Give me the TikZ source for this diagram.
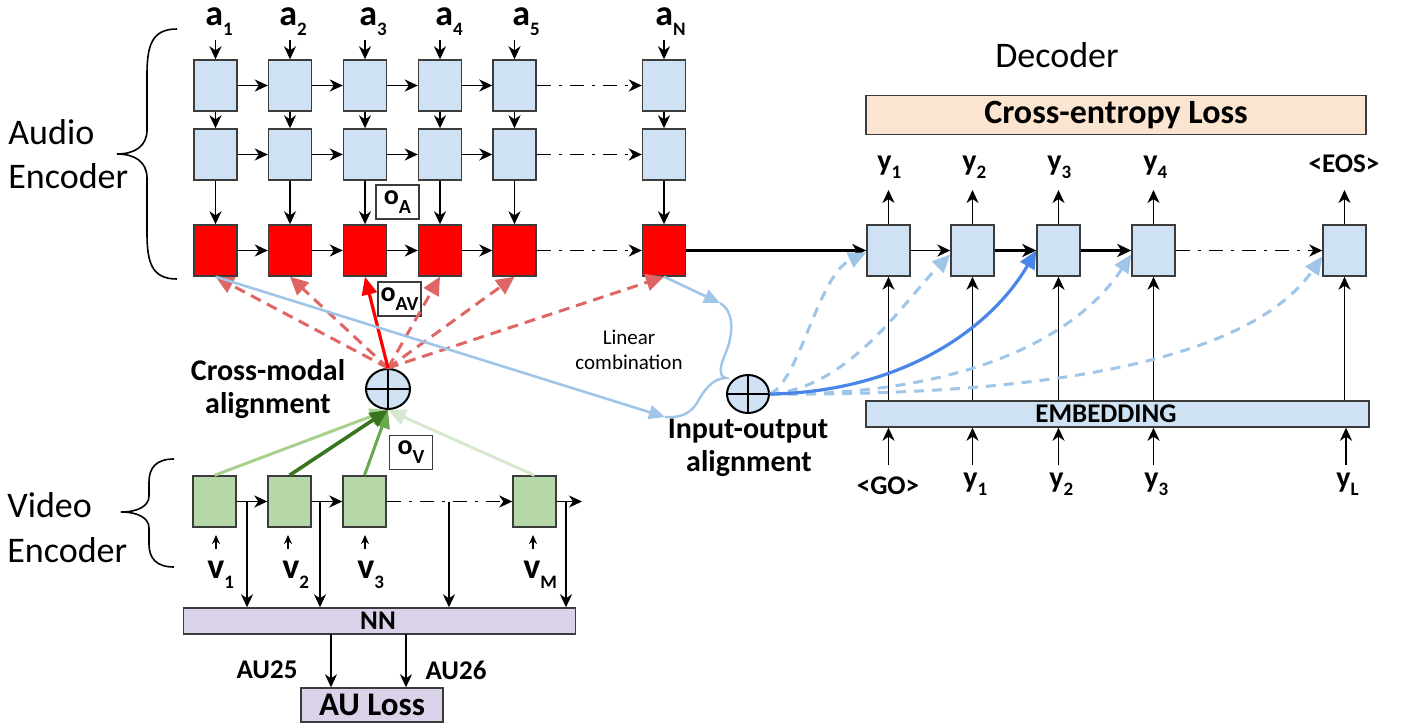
\documentclass[tikz,border=0pt]{standalone}
\usepackage{fontspec}
\setmainfont{Carlito}
\usetikzlibrary{arrows.meta,shapes.geometric}
\definecolor{boxblue}{RGB}{207,226,243}
\definecolor{boxedge}{RGB}{60,60,60}
\definecolor{vgreen}{RGB}{182,215,168}
\definecolor{lav}{RGB}{217,210,233}
\definecolor{peach}{RGB}{251,229,208}
\definecolor{dred}{RGB}{224,102,102}
\definecolor{lblue}{RGB}{159,197,232}
\definecolor{mblue}{RGB}{74,134,232}
\definecolor{gA}{RGB}{169,209,142}
\definecolor{gB}{RGB}{56,118,29}
\definecolor{gC}{RGB}{106,168,79}
\definecolor{gD}{RGB}{214,233,208}
\newcommand{\sbs}[3]{\raisebox{-#1}{\fontsize{#2}{#2}\selectfont #3}}
\newcommand{\biglab}[2]{{\fontsize{18pt}{20pt}\selectfont\bfseries #1\sbs{5pt}{9.5pt}{#2}}}
\newcommand{\ylab}[2]{{\fontsize{15pt}{16pt}\selectfont\bfseries #1\sbs{4pt}{9.5pt}{#2}}}
\newcommand{\olab}[1]{{\fontsize{14pt}{16pt}\selectfont\bfseries o\sbs{4.5pt}{10pt}{#1}}}
\tikzset{
  cell/.style={draw=boxedge, line width=0.7pt, minimum width=21.5pt, minimum height=25.5pt, inner sep=0pt},
  acell/.style={cell, fill=boxblue},
  rcell/.style={cell, fill=red},
  gcell/.style={cell, fill=vgreen},
  obox/.style={draw=boxedge, line width=0.6pt, fill=white, minimum width=21.5pt, minimum height=17pt, inner sep=0pt},
  arr/.style={-{Stealth[length=6.5pt,width=6pt,inset=2pt]}, line width=0.9pt},
  thickarr/.style={-{Stealth[length=7pt,width=6.5pt,inset=2pt]}, line width=1.3pt},
  dd/.style={dash pattern=on 7pt off 4pt on 1.5pt off 4pt},
  reddash/.style={dred, line width=1.5pt, dash pattern=on 5.5pt off 3.5pt, -{Triangle[length=9pt,width=8.5pt]}},
  redsolid/.style={red, line width=1.6pt, -{Triangle[length=9pt,width=7.5pt]}},
  grn/.style={line width=1.5pt, -{Triangle[length=9pt,width=8pt]}},
  bluedash/.style={lblue, line width=1.5pt, dash pattern=on 5pt off 4pt, -{Triangle[length=9pt,width=8pt]}},
  bluesolid/.style={mblue, line width=1.6pt, -{Triangle[length=9pt,width=8pt]}},
  thinblue/.style={lblue, line width=1.3pt, -{Triangle[length=8pt,width=7pt]}},
  oplus/.style={ellipse, draw=black, line width=1pt, fill=boxblue, inner sep=0pt},
  bigtxt/.style={font=\fontsize{18pt}{22pt}\selectfont, align=left},
  boldtxt/.style={font=\fontsize{15pt}{16.5pt}\selectfont\bfseries},
  bar/.style={draw=boxedge, line width=0.7pt, inner sep=0pt}
}
\begin{document}
\begin{tikzpicture}[x=0.5pt,y=-0.5pt]
\useasboundingbox (0,0) rectangle (1404,724);

% ---------------- Audio encoder ----------------
\foreach \c/\x in {1/215.5,2/290,3/365,4/440,5/514.5,N/664} {
  \node[acell] (A1\c) at (\x,85.5) {};
  \node[acell] (A2\c) at (\x,154.5) {};
  \node[rcell] (A3\c) at (\x,250.5) {};
  \coordinate (ain\c) at (\x,40);
  \draw[arr] (ain\c) -- (A1\c.north);
  \draw[arr] (A1\c) -- (A2\c);
  \draw[arr] (A2\c) -- (A3\c);
}
\foreach \r in {1,2,3} {
  \foreach \a/\b in {1/2,2/3,3/4,4/5} { \draw[arr] (A\r\a) -- (A\r\b); }
  \draw[arr,dd] (A\r5) -- (A\r N);
}
\node[anchor=base west,inner sep=0pt] (la1) at (205,25) {\biglab{a}{1}};
\node[anchor=base west,inner sep=0pt] (la2) at (279,25) {\biglab{a}{2}};
\node[anchor=base west,inner sep=0pt] (la3) at (359,25) {\biglab{a}{3}};
\node[anchor=base west,inner sep=0pt] (la4) at (435,25) {\biglab{a}{4}};
\node[anchor=base west,inner sep=0pt] (la5) at (512,25) {\biglab{a}{5}};
\node[anchor=base west,inner sep=0pt] (laN) at (655,25) {\biglab{a}{N}};

\node[obox] (oA) at (397.5,202) {\olab{A}};
\node[obox] (oAV) at (399.5,299) {\olab{AV}};

% Audio brace and label
\draw[line width=0.8pt] (177,29) .. controls (152,29) and (147,45) .. (147,75) -- (147,130)
  .. controls (147,146) and (135,154) .. (117,154) .. controls (135,154) and (147,162) .. (147,178)
  -- (147,233) .. controls (147,263) and (152,279) .. (177,279);
\node[bigtxt,anchor=base west,inner sep=0pt] (audiolab) at (8,144) {Audio};
\node[bigtxt,anchor=base west,inner sep=0pt] (audiolab2) at (8,188) {Encoder};

% ---------------- Video encoder ----------------
\foreach \i/\x in {1/214.5,2/289.5,3/364.5,4/534.5} {
  \node[gcell] (V\i) at (\x,501.5) {};
}
\draw[arr] (V1) -- (V2);
\draw[arr] (V2) -- (V3);
\draw[arr,dd] (V3) -- (V4);
\coordinate (vout) at (582,501.5);
\draw[arr] (V4) -- (vout);

\node[bar, fill=lav, minimum width=196pt, minimum height=13pt] (nn) at (379.5,621) {};
\node[font=\fontsize{13.5pt}{14pt}\selectfont\bfseries] (nntxt) at (378,621) {NN};
\foreach \i/\x in {1/247,2/320,3/449,4/566} {
  \coordinate (t\i) at (\x,501.5);
  \draw[arr] (t\i) -- (t\i |- nn.north);
}
\node[bar, fill=lav, minimum width=71pt, minimum height=17pt, font=\fontsize{16.5pt}{17pt}\selectfont\bfseries] (aul) at (372,705) {AU Loss};
\coordinate (au1) at (331,634);
\coordinate (au2) at (406,634);
\draw[arr] (au1) -- (au1 |- aul.north);
\draw[arr] (au2) -- (au2 |- aul.north);
\node[font=\fontsize{13.5pt}{14pt}\selectfont\bfseries] (au25) at (267,670) {AU25};
\node[font=\fontsize{13.5pt}{14pt}\selectfont\bfseries] (au26) at (456,670) {AU26};

% v inputs
\foreach \i/\x in {1/216,2/288,3/365,4/533} {
  \coordinate (vi\i) at (\x,549);
  \coordinate (vt\i) at (\x,535);
  \draw[-{Stealth[length=4.5pt,width=4pt]}, line width=0.8pt] (vi\i) -- (vt\i);
}
\node[anchor=base west,inner sep=0pt] (lv1) at (207,578) {\biglab{v}{1}};
\node[anchor=base west,inner sep=0pt] (lv2) at (282,578) {\biglab{v}{2}};
\node[anchor=base west,inner sep=0pt] (lv3) at (357,578) {\biglab{v}{3}};
\node[anchor=base west,inner sep=0pt] (lvM) at (523,578) {\biglab{v}{M}};

% video brace and label
\draw[line width=0.8pt] (174,459) .. controls (156,459) and (149,468) .. (149,482) -- (149,496)
  .. controls (149,506) and (138,512) .. (121,512) .. controls (138,512) and (149,518) .. (149,528)
  -- (149,544) .. controls (149,558) and (156,567) .. (174,567);
\node[bigtxt,anchor=base west,inner sep=0pt] (videolab) at (7,517) {Video};
\node[bigtxt,anchor=base west,inner sep=0pt] (videolab2) at (7,562) {Encoder};

% ---------------- Cross-modal alignment ----------------
\node[oplus, minimum width=22pt, minimum height=20pt] (cm) at (388,389) {};
\draw[line width=1pt] (cm.north) -- (cm.south);
\draw[line width=1pt] (cm.west) -- (cm.east);
\node[boldtxt,anchor=base] (cmt1) at (268,380) {Cross-modal};
\node[boldtxt,anchor=base] (cmt2) at (268,413) {alignment};

\draw[reddash] (cm.north) -- (A31.south);
\draw[reddash] (cm.north) -- (A32.south);
\draw[reddash] (cm.north) -- (A34.south);
\draw[reddash] (cm.north) -- (A35.south);
\draw[reddash] (cm.north) -- (A3N.south);
\draw[redsolid] (cm.north) -- (A33.south);

\draw[grn, gA] (V1.north) -- (cm.south);
\draw[grn, gD] (V4.north) -- (cm.south);
\draw[grn, gC] (V3.north) -- (cm.south);
\draw[grn, gB, line width=1.8pt] (V2.north) -- (cm.south);
\node[obox] (oV) at (411,452.5) {\olab{V}};

% ---------------- Input-output alignment ----------------
\node[oplus, minimum width=21pt, minimum height=19pt] (io) at (748,394) {};
\draw[line width=1pt] (io.north) -- (io.south);
\draw[line width=1pt] (io.west) -- (io.east);
\node[boldtxt,anchor=base] (iot1) at (748,438) {Input-output};
\node[boldtxt,anchor=base] (iot2) at (749,471) {alignment};

\coordinate (br1) at (665,417);
\coordinate (br2) at (720,303);
\draw[thinblue] (A31.south) -- (br1);
\draw[thinblue] (A3N.south) -- (br2);
\draw[lblue, line width=1.2pt] (br2) .. controls (735,312) and (733,335) .. (726,352)
  .. controls (720,366) and (718,376) .. (726,378)
  .. controls (712,378) and (703,392) .. (697,403)
  .. controls (690,414) and (680,418) .. (665,417);
\node[font=\fontsize{10.5pt}{12.5pt}\selectfont, align=center] (lc) at (629,350) {Linear\\combination};

% ---------------- Decoder ----------------
\node[font=\fontsize{18pt}{20pt}\selectfont] (dec) at (1057,55) {Decoder};
\node[bar, fill=peach, minimum width=250pt, minimum height=19.5pt, font=\fontsize{17pt}{18pt}\selectfont\bfseries] (ce) at (1116,115) {Cross-entropy Loss};

\foreach \i/\x in {1/888.5,2/972.5,3/1058.5,4/1153.5,5/1344.5} {
  \node[acell] (D\i) at (\x,250.5) {};
  \coordinate (dout\i) at (\x,190);
  \draw[arr] (D\i.north) -- (dout\i);
}
\node[bar, fill=boxblue, minimum width=251.5pt, minimum height=13pt] (emb) at (1117.5,414) {};
\node[font=\fontsize{13.5pt}{14pt}\selectfont\bfseries] (embt) at (1106,414) {EMBEDDING};
\foreach \i in {1,...,5} {
  \draw[arr] (emb.north -| D\i) -- (D\i.south);
}
\foreach \i/\x in {1/888.5,2/972.5,3/1058.5,4/1153.5,5/1346} {
  \coordinate (ebot\i) at (\x,465);
  \draw[arr] (ebot\i) -- (ebot\i |- emb.south);
}
\draw[arr] (D1) -- (D2);
\draw[thickarr] (D2) -- (D3);
\draw[thickarr] (D3) -- (D4);
\draw[arr,dd] (D4) -- (D5);
\draw[thickarr, line width=1.6pt] (A3N.east) -- (D1.west);

\node[anchor=base west,inner sep=0pt] (ly1) at (877,170) {\ylab{y}{1}};
\node[anchor=base west,inner sep=0pt] (ly2) at (962,170) {\ylab{y}{2}};
\node[anchor=base west,inner sep=0pt] (ly3) at (1047,170) {\ylab{y}{3}};
\node[anchor=base west,inner sep=0pt] (ly4) at (1143,170) {\ylab{y}{4}};
\node[anchor=base,font=\fontsize{13.5pt}{14pt}\selectfont\bfseries] (leos) at (1344,172) {<EOS>};

\node[anchor=base,font=\fontsize{13.5pt}{14pt}\selectfont\bfseries] (lgo) at (888,494) {<GO>};
\node[anchor=base west,inner sep=0pt] (lb1) at (963,487) {\ylab{y}{1}};
\node[anchor=base west,inner sep=0pt] (lb2) at (1049,487) {\ylab{y}{2}};
\node[anchor=base west,inner sep=0pt] (lb3) at (1144,487) {\ylab{y}{3}};
\node[anchor=base west,inner sep=0pt] (lbL) at (1336,487) {\ylab{y}{L}};

% attention curves
\draw[bluedash] (io.east) .. controls (800,380) and (818,275) .. ([yshift=-1pt]D1.west);
\draw[bluedash] (io.east) .. controls (850,388) and (905,300) .. ([yshift=-2pt]D2.west);
\draw[bluedash] (io.east) .. controls (960,396) and (1075,340) .. ([yshift=-2pt]D4.west);
\draw[bluedash] (io.east) .. controls (1050,396) and (1250,360) .. ([yshift=-3pt]D5.west);
\draw[bluesolid] (io.east) .. controls (900,392) and (990,330) .. (D3.west);
\end{tikzpicture}
\end{document}
